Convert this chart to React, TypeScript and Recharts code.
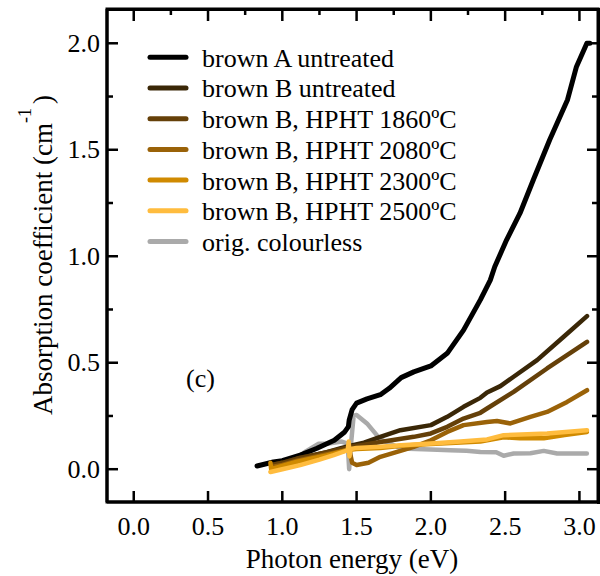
import React from 'react';
import { LineChart, Line, XAxis, YAxis, Legend, Customized } from 'recharts';

// Photon energy (eV), absorption coefficient (cm^-1) pairs
const brownAUntreated: [number, number][] = [
  [0.83, 0.015], [0.94, 0.034], [1.0, 0.04], [1.12, 0.066], [1.23, 0.097], [1.35, 0.136], [1.42, 0.175],
  [1.445, 0.2], [1.45, 0.23], [1.47, 0.28], [1.5, 0.31], [1.57, 0.33], [1.66, 0.35], [1.72, 0.38],
  [1.8, 0.43], [1.885, 0.457], [2.0, 0.485], [2.11, 0.544], [2.22, 0.653], [2.333, 0.795], [2.4, 0.888],
  [2.43, 0.951], [2.51, 1.077], [2.6, 1.202], [2.69, 1.359], [2.8, 1.547], [2.92, 1.735], [2.98, 1.89],
  [3.05, 2.0], [3.07, 2.0],
];
const brownBUntreated: [number, number][] = [
  [0.93, 0.02], [1.0, 0.03], [1.1, 0.05], [1.2, 0.065], [1.3, 0.08], [1.4, 0.1], [1.46, 0.11], [1.55, 0.125],
  [1.66, 0.152], [1.795, 0.183], [2.0, 0.207], [2.11, 0.246], [2.22, 0.293], [2.333, 0.335], [2.378, 0.36],
  [2.468, 0.39], [2.557, 0.434], [2.715, 0.512], [2.894, 0.622], [3.051, 0.719],
];
const brownB1860: [number, number][] = [
  [0.93, 0.02], [1.0, 0.03], [1.1, 0.05], [1.2, 0.065], [1.3, 0.08], [1.4, 0.095], [1.46, 0.105], [1.55, 0.115],
  [1.66, 0.128], [1.885, 0.152], [2.0, 0.168], [2.11, 0.199], [2.22, 0.238], [2.333, 0.265], [2.378, 0.285],
  [2.557, 0.363], [2.782, 0.473], [3.051, 0.598],
];
const brownB2080: [number, number][] = [
  [0.93, 0.01], [1.0, 0.02], [1.1, 0.04], [1.2, 0.055], [1.3, 0.07], [1.44, 0.09], [1.455, 0.08], [1.47, 0.03],
  [1.5, 0.02], [1.58, 0.03], [1.66, 0.058], [1.885, 0.105], [2.0, 0.136], [2.11, 0.175], [2.22, 0.207],
  [2.378, 0.222], [2.445, 0.226], [2.535, 0.215], [2.67, 0.246], [2.782, 0.269], [2.917, 0.316], [3.051, 0.371],
];
const brownB2300: [number, number][] = [
  [0.92, 0.03], [0.925, 0.0], [1.0, 0.015], [1.1, 0.035], [1.2, 0.05], [1.3, 0.065], [1.44, 0.09], [1.5, 0.095],
  [1.66, 0.1], [1.8, 0.11], [2.0, 0.118], [2.2, 0.125], [2.333, 0.13], [2.49, 0.15], [2.6, 0.145], [2.76, 0.145],
  [2.9, 0.16], [3.05, 0.175],
];
const brownB2500: [number, number][] = [
  [0.92, -0.013], [1.0, 0.0], [1.12, 0.019], [1.25, 0.045], [1.346, 0.066], [1.44, 0.089], [1.447, 0.13],
  [1.452, 0.06], [1.46, 0.095], [1.5, 0.1], [1.66, 0.105], [1.8, 0.113], [2.0, 0.121], [2.2, 0.13],
  [2.378, 0.14], [2.49, 0.16], [2.782, 0.168], [3.051, 0.183],
];
const origColourless: [number, number][] = [
  [1.15, 0.08], [1.245, 0.12], [1.3, 0.12], [1.4, 0.13], [1.44, 0.12], [1.45, 0.0], [1.46, 0.1], [1.48, 0.25],
  [1.5, 0.255], [1.57, 0.215], [1.66, 0.14], [1.8, 0.097], [1.9, 0.095], [2.0, 0.093], [2.13, 0.089],
  [2.24, 0.087], [2.333, 0.081], [2.44, 0.08], [2.49, 0.063], [2.557, 0.074], [2.67, 0.075], [2.76, 0.086],
  [2.85, 0.074], [3.05, 0.074],
];

const seriesNames = [
  'brown A untreated',
  'brown B untreated',
  'brown B, HPHT 1860ºC',
  'brown B, HPHT 2080ºC',
  'brown B, HPHT 2300ºC',
  'brown B, HPHT 2500ºC',
  'orig. colourless',
];
const seriesColors = ['#000000', '#3a2707', '#654009', '#9a6208', '#d08a00', '#ffbc3e', '#aaaaaa'];
const seriesData = [brownAUntreated, brownBUntreated, brownB1860, brownB2080, brownB2300, brownB2500, origColourless];
const drawOrder = [6, 0, 1, 2, 3, 4, 5];

// tick values (quarter steps; labels only on half steps)
const xTicks = [0, 0.25, 0.5, 0.75, 1.0, 1.25, 1.5, 1.75, 2.0, 2.25, 2.5, 2.75, 3.0];
const yTicks = [0, 0.25, 0.5, 0.75, 1.0, 1.25, 1.5, 1.75, 2.0];
const xDomain: [number, number] = [-0.18, 3.125];
const yDomain: [number, number] = [-0.154, 2.161];

// layout
const W = 600;
const H = 576;
const MARGIN_TOP = 9;
const MARGIN_RIGHT = 2;
const Y_AXIS_W = 107;
const X_AXIS_H = 74;
const PLOT_TOP = 9;
const PLOT_RIGHT = 598;
const PLOT_LEFT = 107;
const PLOT_BOTTOM = 502;

const FONT = "'Liberation Serif', 'Times New Roman', serif";
const textStyle: React.CSSProperties = { fontFamily: FONT, fontSize: 26, fill: '#000' };
const titleStyle: React.CSSProperties = { fontFamily: FONT, fontSize: 27, fill: '#000' };

const isMajor = (v: number) => Math.abs(v * 2 - Math.round(v * 2)) < 1e-6;

const BottomTick = (props: any) => {
  const { x, y, payload } = props;
  const major = isMajor(payload.value);
  return (
    <g>
      {major && <line x1={x} x2={x} y1={y} y2={y - 11} stroke="#000" strokeWidth={2.5} />}
      {major && (
        <text x={x} y={y + 33} textAnchor="middle" style={textStyle}>
          {Number(payload.value).toFixed(1)}
        </text>
      )}
      <path d={`M${x},${PLOT_TOP}V${PLOT_TOP + (major ? 12 : 6)}`} stroke="#000" strokeWidth={2.5} fill="none" />
    </g>
  );
};
const LeftTick = (props: any) => {
  const { x, y, payload } = props;
  const major = isMajor(payload.value);
  return (
    <g>
      <line x1={x} x2={x + (major ? 11 : 6)} y1={y} y2={y} stroke="#000" strokeWidth={2.5} />
      <path d={`M${PLOT_RIGHT},${y}H${PLOT_RIGHT - (major ? 11 : 6)}`} stroke="#000" strokeWidth={2.5} fill="none" />
      {major && (
        <text x={x - 7} y={y + 8.5} textAnchor="end" style={textStyle}>
          {Number(payload.value).toFixed(1)}
        </text>
      )}
    </g>
  );
};

const Frame = () => (
  <rect
    x={PLOT_LEFT}
    y={PLOT_TOP}
    width={PLOT_RIGHT - PLOT_LEFT}
    height={PLOT_BOTTOM - PLOT_TOP}
    fill="none"
    stroke="#000"
    strokeWidth={3}
  />
);

const LegendBox = () => (
  <svg width={320} height={230} style={{ display: 'block' }}>
    {seriesNames.map((name, i) => {
      const cy = 17.3 + i * 30.7;
      return (
        <g key={name}>
          <line x1={12} x2={48} y1={cy} y2={cy} stroke={seriesColors[i]} strokeWidth={5} strokeLinecap="round" />
          <text x={64} y={cy + 9.4} style={textStyle}>
            {name}
          </text>
        </g>
      );
    })}
  </svg>
);

const PanelLabel = () => (
  <text x={186} y={387} style={textStyle}>
    (c)
  </text>
);

const YTitle = () => (
  <text x={52} y={255} transform="rotate(-90 52 255)" textAnchor="middle" style={titleStyle}>
    Absorption coefficient (cm
    <tspan style={{ fontSize: 18 }} dy={-21}>-1</tspan>
    <tspan dy={21} dx={4}>)</tspan>
  </text>
);

const XTitle = () => (
  <text x={352} y={568} textAnchor="middle" style={titleStyle}>
    Photon energy (eV)
  </text>
);

const edgeBase: React.CSSProperties = { position: 'absolute', background: '#000', pointerEvents: 'none', zIndex: 10 };

export default function App() {
  return (
    <div style={{ position: 'absolute', left: 0, top: 0, width: W, height: H, background: '#fff' }}>
      <LineChart width={W} height={H} margin={{ top: MARGIN_TOP, right: MARGIN_RIGHT, bottom: 0, left: 0 }}>
        <XAxis
          type="number"
          dataKey="e"
          domain={xDomain}
          allowDataOverflow
          ticks={xTicks}
          interval={0}
          height={X_AXIS_H}
          tickSize={0}
          tickMargin={0}
          tickLine={false}
          axisLine={{ stroke: '#000', strokeWidth: 3 }}
          tick={<BottomTick />}
        />
        <YAxis
          type="number"
          domain={yDomain}
          allowDataOverflow
          ticks={yTicks}
          interval={0}
          width={Y_AXIS_W}
          tickSize={0}
          tickMargin={0}
          tickLine={false}
          axisLine={{ stroke: '#000', strokeWidth: 3 }}
          tick={<LeftTick />}
        />
        {drawOrder.map((i) => (
          <Line
            key={seriesNames[i]}
            name={seriesNames[i]}
            data={seriesData[i].map(([e, a]) => ({ e, a }))}
            dataKey="a"
            type="linear"
            stroke={seriesColors[i]}
            strokeWidth={i === 0 ? 5 : 4.5}
            strokeLinejoin="round"
            strokeLinecap="round"
            dot={false}
            activeDot={false}
            isAnimationActive={false}
          />
        ))}
        <Legend
          layout="vertical"
          align="center"
          verticalAlign="middle"
          content={<LegendBox />}
          wrapperStyle={{ position: 'absolute', left: 138, top: 40, width: 320, height: 230 }}
        />
        <Customized component={Frame} />
        <Customized component={PanelLabel} />
        <Customized component={YTitle} />
        <Customized component={XTitle} />
      </LineChart>
      <div
        style={{
          ...edgeBase,
          left: PLOT_LEFT - 1.5,
          top: PLOT_TOP - 1.5,
          width: PLOT_RIGHT - PLOT_LEFT + 3,
          height: 3,
        }}
      />
      <div
        style={{
          ...edgeBase,
          left: PLOT_RIGHT - 1.5,
          top: PLOT_TOP - 1.5,
          width: 3,
          height: PLOT_BOTTOM - PLOT_TOP + 3,
        }}
      />
    </div>
  );
}
